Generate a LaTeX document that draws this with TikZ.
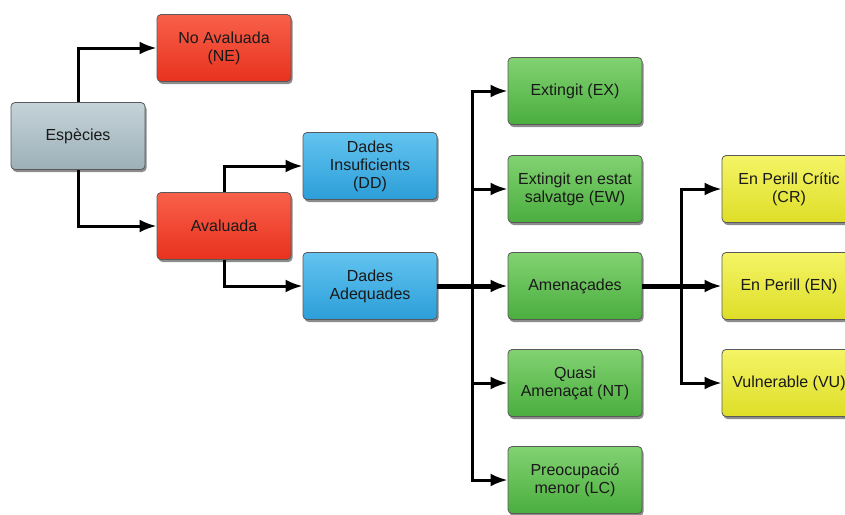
\documentclass[tikz,border=0pt]{standalone}
\usepackage{fontspec}
\setmainfont{Liberation Sans}
\usetikzlibrary{shapes,arrows.meta,shadows}

\definecolor{grisA}{HTML}{C4D3D8}
\definecolor{grisB}{HTML}{9DB0B8}
\definecolor{vermA}{HTML}{F8604A}
\definecolor{vermB}{HTML}{E8321E}
\definecolor{blauA}{HTML}{62C4F0}
\definecolor{blauB}{HTML}{2C9ED8}
\definecolor{verdA}{HTML}{82D272}
\definecolor{verdB}{HTML}{4AAE3E}
\definecolor{grocA}{HTML}{F4F466}
\definecolor{grocB}{HTML}{DEDE28}

\begin{document}
\begin{tikzpicture}[x=1pt,y=-1pt,
	caixa/.style={draw=black!65,thick,rounded corners=4pt,minimum width=134pt,minimum height=67pt,inner sep=1pt,align=center,text=black!90,font=\fontsize{16}{18}\selectfont,drop shadow={shadow xshift=1.5pt,shadow yshift=-2.5pt,opacity=.45,fill=black}},
	gris/.style={caixa,top color=grisA,bottom color=grisB},
	verm/.style={caixa,top color=vermA,bottom color=vermB},
	blau/.style={caixa,top color=blauA,bottom color=blauB},
	verd/.style={caixa,top color=verdA,bottom color=verdB},
	groc/.style={caixa,top color=grocA,bottom color=grocB},
	fletxa/.style={-{Latex[length=17pt,width=13pt]},line width=3pt},
	gruixuda/.style={fletxa,line width=5pt}]
		\useasboundingbox (0,0) rectangle (845,514);
		\clip (0,0) rectangle (845,514);
		\node[gris] (esp) at (78,136) {Espècies};
		\node[verm] (ne) at (224,48) {No Avaluada\\(NE)};
		\node[verm] (av) at (224,226) {Avaluada};
		\node[blau] (dd) at (370,166) {Dades\\Insuficients\\(DD)};
		\node[blau] (da) at (370,286) {Dades\\Adequades};
		\foreach \n / \y / \t in {ex/91/{Extingit (EX)},ew/189/{Extingit en estat\\salvatge (EW)},am/286/{Amenaçades},nt/383/{Quasi\\Amenaçat (NT)},lc/480/{Preocupació\\menor (LC)}}
			\node[verd] (\n) at (575,\y) {\t};
		\foreach \n / \y / \t in {cr/189/{En Perill Crític\\(CR)},en/286/{En Perill (EN)},vu/383/{Vulnerable (VU)}}
			\node[groc] (\n) at (789,\y) {\t};
		\coordinate (bus) at (472,286);
		\coordinate (bus2) at (681,286);
		\draw[fletxa] (esp.north) |- (ne.west);
		\draw[fletxa] (esp.south) |- (av.west);
		\draw[fletxa] (av.north) |- (dd.west);
		\draw[fletxa] (av.south) |- (da.west);
		\draw[gruixuda] (da.east) -- (am.west);
		\foreach \n in {ex,ew,nt,lc} \draw[fletxa] (bus) |- (\n.west);
		\draw[gruixuda] (am.east) -- (en.west);
		\foreach \n in {cr,vu} \draw[fletxa] (bus2) |- (\n.west);
	\end{tikzpicture}
\end{document}
